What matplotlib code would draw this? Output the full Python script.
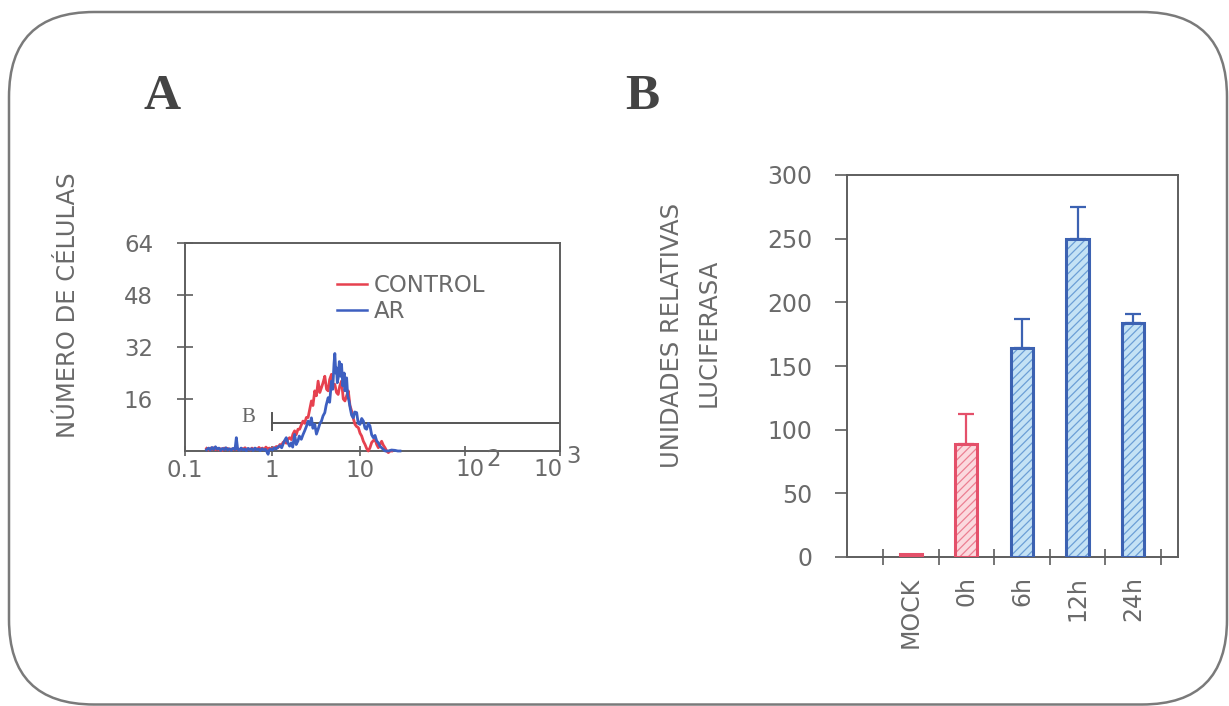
import numpy as np
import matplotlib
matplotlib.use("Agg")
import matplotlib.pyplot as plt
import matplotlib.transforms as mtransforms
from matplotlib.patches import FancyBboxPatch
from matplotlib.lines import Line2D

# ---------------- Panel A data (flow cytometry histogram) ----------------
# log10 of fluorescence intensity, and cell counts
control_log = [-0.752, -0.73, -0.71, -0.69, -0.67, -0.65, -0.63, -0.61, -0.59, -0.57,
               -0.55, -0.53, -0.51, -0.49, -0.47, -0.45, -0.43, -0.41, -0.39, -0.37,
               -0.35, -0.33, -0.31, -0.29, -0.27, -0.25, -0.23, -0.21, -0.19, -0.17,
               -0.15, -0.13, -0.11, -0.09, -0.07, -0.05, -0.03, -0.01, 0.01, 0.03,
               0.05, 0.067, 0.09, 0.105, 0.124, 0.143, 0.162, 0.18, 0.2, 0.22,
               0.238, 0.257, 0.275, 0.295, 0.314, 0.333, 0.352, 0.371, 0.39, 0.41,
               0.43, 0.448, 0.465, 0.486, 0.505, 0.524, 0.543, 0.562, 0.58, 0.6,
               0.62, 0.638, 0.655, 0.676, 0.695, 0.714, 0.733, 0.752, 0.77, 0.79,
               0.81, 0.829, 0.848, 0.867, 0.886, 0.905, 0.924, 0.943, 0.962, 0.981,
               1.0, 1.016, 1.032, 1.048, 1.063, 1.079, 1.095, 1.111, 1.127, 1.143,
               1.159, 1.175, 1.19, 1.206, 1.222, 1.238, 1.254, 1.27, 1.286, 1.302]
control_cnt = [0.8, 0.3, 0.9, 0.5, 1.0, 0.4, 0.8, 0.3, 0.7, 0.2,
               0.9, 0.5, 0.8, 0.3, 0.6, 0.4, 0.9, 0.5, 0.7, 0.3,
               0.8, 0.6, 1.0, 0.4, 0.7, 0.3, 0.9, 0.5, 0.8, 0.4,
               1.1, 0.6, 0.9, 0.4, 1.2, 0.7, 0.9, 0.5, 1.0, 0.8,
               1.4, 1.0, 2.0, 1.5, 2.6, 3.0, 2.4, 3.6, 4.1, 3.5,
               5.2, 6.2, 5.0, 6.7, 6.7, 8.0, 9.2, 8.5, 10.3, 10.3,
               13.0, 15.4, 14.0, 18.5, 17.0, 21.5, 18.0, 19.5, 21.0, 23.0,
               19.0, 18.5, 22.0, 23.6, 20.0, 20.5, 18.0, 17.4, 20.0, 21.5,
               16.0, 15.4, 17.0, 18.5, 14.0, 12.3, 10.0, 8.2, 7.5, 7.2,
               5.5, 4.6, 3.0, 2.0, 0.8, 0.0, 1.0, 2.6, 3.2, 3.6,
               2.0, 1.0, 2.0, 3.0, 1.8, 1.0, 0.0, -0.5, 0.0, 0.0]

ar_log = [-0.752, -0.73, -0.71, -0.69, -0.67, -0.65, -0.63, -0.61, -0.59, -0.57,
          -0.55, -0.53, -0.51, -0.49, -0.47, -0.45, -0.425, -0.41, -0.395, -0.375,
          -0.355, -0.335, -0.315, -0.295, -0.275, -0.255, -0.235, -0.215, -0.195, -0.175,
          -0.155, -0.135, -0.115, -0.095, -0.075, -0.055, -0.045, -0.035, -0.015, 0.005,
          0.025, 0.045, 0.067, 0.09, 0.11, 0.124, 0.143, 0.162, 0.18, 0.2,
          0.219, 0.235, 0.257, 0.275, 0.295, 0.31, 0.333, 0.352, 0.371, 0.39,
          0.41, 0.43, 0.448, 0.465, 0.486, 0.505, 0.524, 0.545, 0.562, 0.58,
          0.6, 0.615, 0.638, 0.655, 0.676, 0.69, 0.705, 0.714, 0.725, 0.733,
          0.742, 0.752, 0.765, 0.78, 0.79, 0.805, 0.82, 0.829, 0.84, 0.848,
          0.86, 0.875, 0.89, 0.905, 0.924, 0.94, 0.962, 0.98, 1.0, 1.016,
          1.032, 1.048, 1.063, 1.079, 1.095, 1.111, 1.127, 1.143, 1.159, 1.175,
          1.19, 1.206, 1.222, 1.24, 1.27, 1.3, 1.333, 1.36, 1.381]
ar_cnt = [0.4, 0.9, 0.3, 1.1, 0.5, 1.3, 0.6, 0.9, 0.2, 0.8,
          0.4, 1.0, 0.3, 0.7, 0.2, 0.8, 0.5, 4.1, 0.6, 0.2,
          0.9, 0.3, 0.6, 0.1, 0.8, 0.4, 0.7, 0.2, 0.9, 0.4,
          0.6, 0.1, 0.7, 0.3, 0.5, -0.4, -1.0, 0.2, 0.6, 0.3,
          1.0, 0.6, 1.2, 1.6, 1.0, 2.0, 3.2, 4.1, 2.6, 1.5,
          2.5, 1.2, 5.1, 2.0, 3.1, 4.6, 3.6, 5.0, 6.2, 7.5,
          9.2, 8.0, 10.2, 7.0, 8.2, 5.2, 6.7, 8.5, 9.2, 10.8,
          11.8, 14.0, 16.4, 15.0, 21.5, 19.0, 27.0, 30.0, 24.0, 25.6,
          21.0, 22.5, 27.5, 23.0, 26.7, 20.0, 24.0, 18.5, 21.0, 22.5,
          17.0, 15.4, 13.0, 11.0, 10.2, 12.0, 11.8, 8.5, 8.2, 10.0,
          9.2, 7.0, 6.7, 8.5, 7.7, 5.0, 4.1, 4.8, 3.1, 2.5,
          1.5, 1.0, 0.5, 0.0, 0.0, 0.3, 0.2, 0.0, 0.0]

hist_labels = ["CONTROL", "AR"]
a_yticks = [16, 32, 48, 64]
a_xticks = [0.1, 1, 10, 100, 1000]
a_xticklabels = ["0.1", "1", "10", "", ""]
a_xpowers = [(100, "10", "2"), (1000, "10", "3")]
gate_start, gate_end, gate_level = 1.0, 1000.0, 8.6

# ---------------- Panel B data (luciferase) ----------------
categories = ["MOCK", "0h", "6h", "12h", "24h"]
luc_values = [2, 89, 164, 250, 184]
luc_errors = [0, 23, 23, 25, 7]
luc_group = ["control", "control", "ar", "ar", "ar"]
b_yticks = [0, 50, 100, 150, 200, 250, 300]

# ---------------- styling ----------------
plt.rcParams["font.family"] = ["DejaVu Sans"]
plt.rcParams["hatch.linewidth"] = 0.9
RED = "#e6414f"
BLUE = "#3d5fc0"
BAR_EDGE = {"control": "#e4506a", "ar": "#3c62b2"}
BAR_FACE = {"control": "#fbd9de", "ar": "#c4e2f5"}
BAR_HATCH = {"control": "#ec7f92", "ar": "#6b9fd6"}
AXC = "#5e5e5e"
TXT = "#6a6a6a"
FS = 16.5
FS_LAB = 17.5
# per-label pixel offsets for the power-of-ten labels: (base dx, exponent dx, exponent dy)
pow_offsets = {100: (5, 29, 3), 1000: (-12, 14, 6)}

W, H = 1229, 706
fig = plt.figure(figsize=(W / 100, H / 100), dpi=100)
fig.patch.set_facecolor("white")


def fr(x0, y_top, x1, y_bot):
    return [x0 / W, 1 - y_bot / H, (x1 - x0) / W, (y_bot - y_top) / H]


# rounded frame
frame = FancyBboxPatch((0.09, 0.015), 12.18, 6.925,
                       boxstyle="round,pad=0,rounding_size=0.85",
                       transform=fig.dpi_scale_trans, facecolor="none",
                       edgecolor="#7a7a7a", linewidth=1.8, zorder=0)
fig.add_artist(frame)

# ---------------- Panel A ----------------
axA = fig.add_axes(fr(185, 243, 560, 451))
k_log = [-10, -1, 0, 1, 2, 3, 10]
k_pos = [-1 - 9 * 87, 0, 87, 175, 280, 375, 375 + 7 * 95]


def fwd(x):
    x = np.asarray(x, dtype=float)
    lx = np.log10(np.clip(x, 1e-12, None))
    return np.interp(lx, k_log, k_pos)


def inv(p):
    p = np.asarray(p, dtype=float)
    return 10 ** np.interp(p, k_pos, k_log)


axA.set_xscale("function", functions=(fwd, inv))
axA.set_xlim(0.1, 1000)
axA.set_ylim(0, 64)

axA.plot(10 ** np.array(control_log), control_cnt, color=RED, lw=2.0,
         clip_on=False, zorder=3)
axA.plot(10 ** np.array(ar_log), ar_cnt, color=BLUE, lw=2.0,
         clip_on=False, zorder=4)

# gate
axA.plot([gate_start, gate_end], [gate_level, gate_level], color="#555555", lw=1.4, zorder=2)
axA.plot([gate_start, gate_start], [gate_level - 2.2, gate_level + 3.2], color="#555555",
         lw=1.4, zorder=2)
axA.text(gate_start, gate_level, "B",
         transform=mtransforms.offset_copy(axA.transData, fig=fig, x=-17, y=1, units="dots"),
         ha="right", va="baseline", family="Liberation Serif", fontsize=15, color="#666666")

for s in axA.spines.values():
    s.set_color(AXC)
    s.set_linewidth(1.4)
axA.set_yticks(a_yticks)
axA.set_yticklabels([str(v) for v in a_yticks])
axA.tick_params(axis="y", direction="inout", length=12, width=1.2, color=AXC,
                labelsize=FS, labelcolor=TXT, pad=17)
axA.set_xticks(a_xticks)
axA.set_xticklabels(a_xticklabels)
axA.xaxis.set_minor_locator(matplotlib.ticker.NullLocator())
axA.tick_params(axis="x", direction="inout", length=7, width=1.2, color=AXC,
                labelsize=FS, labelcolor=TXT, pad=2)
blend = mtransforms.blended_transform_factory(axA.transData, axA.transAxes)
for xv, base, ex in a_xpowers:
    bdx, edx, edy = pow_offsets[xv]
    axA.text(xv, 0, base,
             transform=mtransforms.offset_copy(blend, fig=fig, x=bdx, y=-7, units="dots"),
             ha="center", va="top", fontsize=FS, color=TXT)
    axA.text(xv, 0, ex,
             transform=mtransforms.offset_copy(blend, fig=fig, x=edx, y=edy, units="dots"),
             ha="center", va="top", fontsize=FS, color=TXT)

handles = [Line2D([], [], color=RED, lw=1.8), Line2D([], [], color=BLUE, lw=1.8)]
axA.legend(handles, hist_labels, loc="upper left", bbox_to_anchor=(0.405, 0.85),
           frameon=False, fontsize=FS, handlelength=1.3, handletextpad=0.3,
           labelspacing=0.12, borderpad=0, borderaxespad=0, labelcolor=TXT)

fig.text(68 / W, 1 - 305 / H, "NÚMERO DE CÉLULAS", rotation=90, ha="center",
         va="center", fontsize=FS_LAB, color=TXT)
fig.text(162 / W, 1 - 97 / H, "A", family="Liberation Serif", weight="bold",
         fontsize=37, color="#444444", ha="center", va="center")

# ---------------- Panel B ----------------
axB = fig.add_axes(fr(847, 175, 1178, 557))
xpos = np.arange(len(categories))
for i in range(len(categories)):
    g = luc_group[i]
    # hatched fill
    axB.bar(xpos[i], luc_values[i], width=0.4, facecolor=BAR_FACE[g],
            edgecolor=BAR_HATCH[g], linewidth=0, hatch="////", zorder=3)
    # outline
    axB.bar(xpos[i], luc_values[i], width=0.4, facecolor="none",
            edgecolor=BAR_EDGE[g], linewidth=2.2, zorder=4)
    if luc_errors[i] > 0:
        axB.errorbar(xpos[i], luc_values[i], yerr=[[0], [luc_errors[i]]], fmt="none",
                     ecolor=BAR_EDGE[g], elinewidth=1.6, capsize=6, capthick=1.6,
                     zorder=2)

axB.set_xlim(-1.147, 4.806)
axB.set_ylim(0, 300)
for s in axB.spines.values():
    s.set_color(AXC)
    s.set_linewidth(1.4)
axB.set_yticks(b_yticks)
axB.set_yticklabels([str(v) for v in b_yticks])
axB.tick_params(axis="y", direction="out", length=9, width=1.2, color=AXC,
                labelsize=17, labelcolor=TXT, pad=16)
axB.set_xticks(np.arange(len(categories) + 1) - 0.5)
axB.set_xticklabels([])
axB.tick_params(axis="x", which="major", direction="inout", length=11, width=1.2, color=AXC)
axB.set_xticks(xpos, minor=True)
axB.set_xticklabels(categories, minor=True, rotation=90, va="top", ha="center")
axB.tick_params(axis="x", which="minor", length=0, labelsize=17, labelcolor=TXT, pad=14)

fig.text(672 / W, 1 - 335 / H, "UNIDADES RELATIVAS", rotation=90, ha="center",
         va="center", fontsize=FS_LAB, color=TXT)
fig.text(709 / W, 1 - 333 / H, "LUCIFERASA", rotation=90, ha="center",
         va="center", fontsize=FS_LAB, color=TXT)
fig.text(642 / W, 1 - 97 / H, "B", family="Liberation Serif", weight="bold",
         fontsize=37, color="#444444", ha="center", va="center")

fig.savefig("out.png", dpi=100, facecolor="white")
